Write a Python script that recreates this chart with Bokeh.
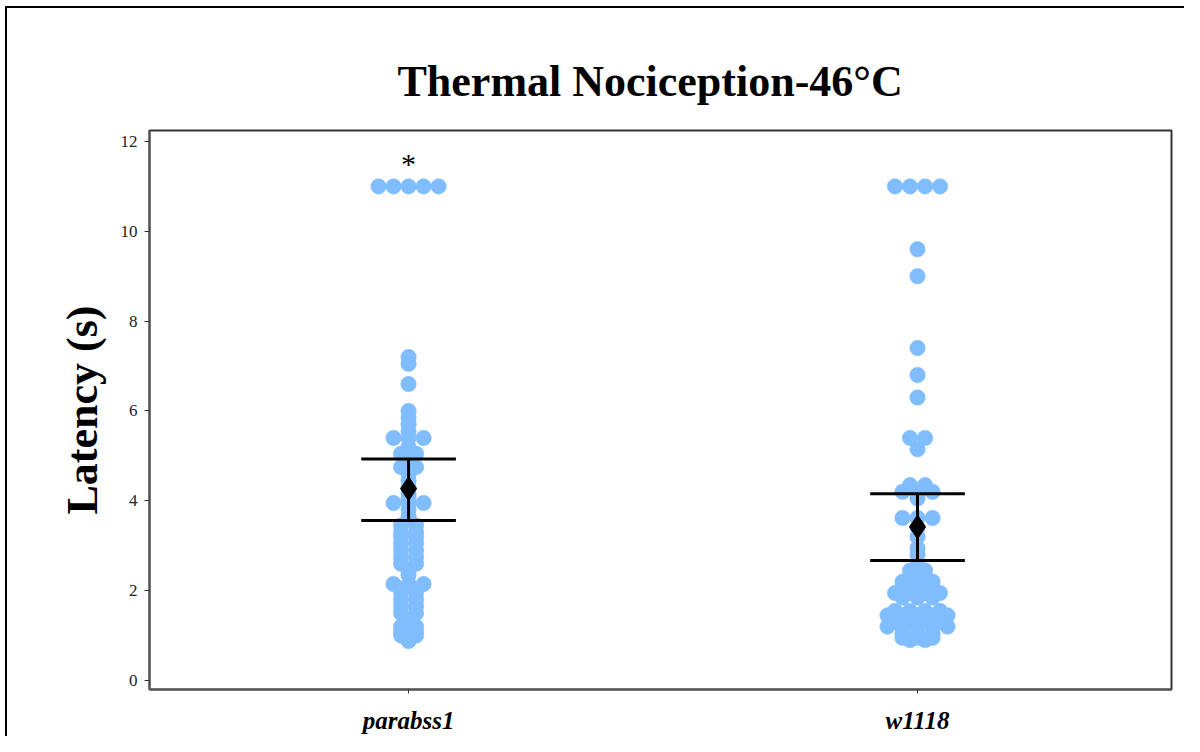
from bokeh.plotting import figure
from bokeh.models import FixedTicker, Range1d, ColumnDataSource
from bokeh.core.properties import value
from bokeh.embed import file_html
from bokeh.resources import INLINE

# ---------------- data ----------------
groups = ["parabss1", "w1118"]
group_pos = [0, 1]

parabss1_latency = [
    11.0, 11.0, 11.0, 11.0, 11.0,
    7.2, 7.05, 6.6, 6.0,
    5.85, 5.7, 5.55,
    5.4, 5.4, 5.4,
    5.2, 5.05, 5.05,
    4.9, 4.75, 4.75, 4.6, 4.45, 4.3, 4.15, 4.05,
    3.95, 3.95, 3.95,
    3.8, 3.65,
    3.45, 3.45, 3.3, 3.3, 3.2, 3.2, 3.05, 3.05, 2.9, 2.9,
    2.75, 2.75, 2.6, 2.6, 2.45, 2.35,
    2.15, 2.15, 2.15,
    1.95, 1.95, 1.8, 1.8, 1.65, 1.65, 1.5, 1.5, 1.35,
    1.2, 1.2, 1.1, 1.1, 1.0, 1.0, 0.88,
]

w1118_latency = [
    11.0, 11.0, 11.0, 11.0,
    9.6, 9.0, 7.4, 6.8, 6.3,
    5.4, 5.4, 5.15,
    4.35, 4.35, 4.2, 4.2, 4.2, 4.05,
    3.62, 3.62, 3.62,
    3.4, 3.2, 2.95, 2.8,
    2.55, 2.45, 2.45, 2.3, 2.3, 2.2, 2.2, 2.2,
    2.05, 2.05, 2.05, 1.95, 1.95, 1.95, 1.95, 1.85, 1.85, 1.85,
    1.55, 1.55, 1.55, 1.55, 1.45, 1.45, 1.45, 1.45, 1.45,
    1.3, 1.3, 1.3, 1.3, 1.2, 1.2, 1.2, 1.2, 1.2,
    1.05, 1.05, 1.05, 0.95, 0.95, 0.95, 0.9, 0.9,
]

means = [4.27, 3.42]
ci_lower = [3.56, 2.67]
ci_upper = [4.93, 4.16]
significance = ["*", ""]
sig_y = [11.5, 11.5]
y_ticks = [0, 2, 4, 6, 8, 10, 12]

# ---------------- styling / layout ----------------
DOT_COLOR = "#80bdff"
SERIF = "Liberation Serif"
dot_step = 0.0295      # horizontal step between tied dots (data units)
cap_half = 0.093       # half width of CI caps (data units)


def swarm(vals, center):
    """Spread tied values symmetrically around the category centre."""
    counts = {}
    for v in vals:
        counts[v] = counts.get(v, 0) + 1
    seen = {}
    xs = []
    for v in vals:
        k = seen.get(v, 0)
        seen[v] = k + 1
        n = counts[v]
        xs.append(center + (k - (n - 1) / 2.0) * dot_step)
    return xs


xs, ys = [], []
for pos, vals in zip(group_pos, [parabss1_latency, w1118_latency]):
    xs += swarm(vals, pos)
    ys += vals

p = figure(
    width=1184, height=736,
    x_range=Range1d(-0.509, 1.499), y_range=Range1d(-0.2, 12.244),
    output_backend="svg", toolbar_location=None,
    min_border_left=149, min_border_right=13,
    min_border_top=130, min_border_bottom=46,
)
# outer page frame (left and top edges of the original picture frame)
p.styles = {
    "background": (
        "linear-gradient(#000, #000) 5px 6px / 2px 100% no-repeat, "
        "linear-gradient(#000, #000) 5px 6px / 100% 2px no-repeat, #ffffff"
    )
}

p.grid.visible = False
p.outline_line_color = "#333333"
p.outline_line_width = 2
p.background_fill_color = "white"
p.border_fill_alpha = 0.0

p.title.text = "Thermal Nociception-46\u00b0C"
p.title.text_font = SERIF
p.title.text_font_style = "bold"
p.title.text_font_size = "44px"
p.title.align = "left"
p.title.offset = 248
p.title.text_color = "black"
p.title.standoff = 49

# dots
p.scatter(x=xs, y=ys, size=15.5, fill_color=DOT_COLOR, line_color=DOT_COLOR,
          line_width=0.5, marker="circle")

# CI bars and means
src = ColumnDataSource(dict(
    x=group_pos, mean=means, lo=ci_lower, hi=ci_upper,
    x0=[g - cap_half for g in group_pos], x1=[g + cap_half for g in group_pos],
    sig=significance, sig_y=sig_y,
))
p.segment(x0="x", y0="lo", x1="x", y1="hi", source=src, line_color="black", line_width=3)
p.segment(x0="x0", y0="hi", x1="x1", y1="hi", source=src, line_color="black", line_width=3)
p.segment(x0="x0", y0="lo", x1="x1", y1="lo", source=src, line_color="black", line_width=3)
p.scatter(x="x", y="mean", source=src, marker="diamond", size=24,
          fill_color="black", line_color="black")
p.text(x="x", y="sig_y", text="sig", source=src, text_font=value(SERIF),
       text_font_size="30px", text_align="center", text_baseline="middle",
       text_color="black")

# axes
xa = p.xaxis[0]
xa.ticker = FixedTicker(ticks=group_pos)
xa.major_label_overrides = {g: n for g, n in zip(group_pos, groups)}
xa.major_label_text_font = SERIF
xa.major_label_text_font_style = "bold italic"
xa.major_label_text_font_size = "25px"
xa.major_label_text_color = "black"
xa.major_tick_in = 0
xa.major_tick_out = 4
xa.minor_tick_line_color = None
xa.major_label_standoff = 13
xa.axis_line_color = "#555555"
xa.axis_line_width = 2
xa.major_tick_line_color = "#333333"

ya = p.yaxis[0]
ya.ticker = FixedTicker(ticks=y_ticks)
ya.major_label_text_font = SERIF
ya.major_label_text_font_size = "17px"
ya.major_label_text_color = "#222222"
ya.major_tick_in = 0
ya.major_tick_out = 5
ya.minor_tick_line_color = None
ya.major_label_standoff = 7
ya.axis_line_color = "#555555"
ya.axis_line_width = 2
ya.major_tick_line_color = "#333333"
ya.axis_label = "Latency (s)"
ya.axis_label_text_font = SERIF
ya.axis_label_text_font_style = "bold"
ya.axis_label_text_font_size = "44px"
ya.axis_label_text_color = "black"
ya.axis_label_standoff = 11

open("out.html", "w").write(file_html(p, INLINE))
